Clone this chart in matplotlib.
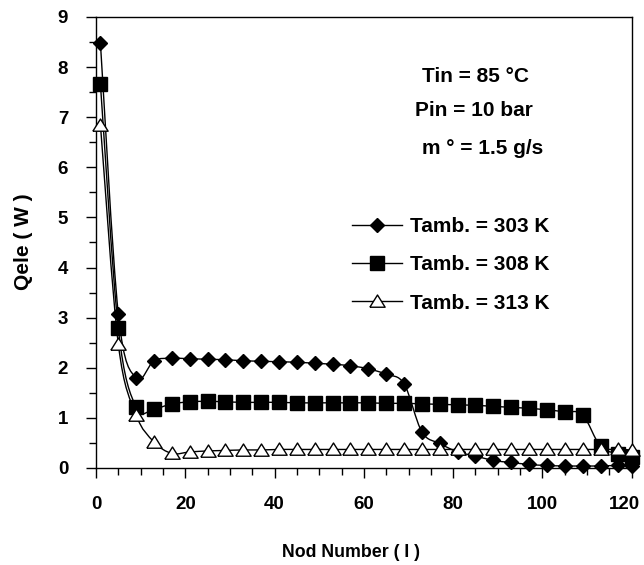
import numpy as np
import matplotlib
matplotlib.use('Agg')
import matplotlib.pyplot as plt
from matplotlib.path import Path
from matplotlib.patches import PathPatch
from matplotlib.lines import Line2D
from matplotlib.transforms import ScaledTranslation

plt.rcParams['font.family'] = ['Liberation Sans', 'DejaVu Sans']
plt.rcParams['font.weight'] = 'bold'

# node numbers
nodes = [1, 5, 9, 13, 17, 21, 25, 29, 33, 37, 41, 45, 49, 53, 57, 61, 65, 69,
         73, 77, 81, 85, 89, 93, 97, 101, 105, 109, 113, 117, 120]

# Qele (W) for each ambient temperature
q303 = [8.48, 3.08, 1.79, 2.14, 2.19, 2.18, 2.17, 2.16, 2.14, 2.13, 2.12, 2.11,
        2.09, 2.07, 2.04, 1.98, 1.87, 1.68, 0.72, 0.49, 0.32, 0.24, 0.15, 0.11,
        0.07, 0.05, 0.04, 0.04, 0.04, 0.05, 0.03]
q308 = [7.66, 2.79, 1.21, 1.18, 1.28, 1.32, 1.33, 1.32, 1.31, 1.31, 1.31, 1.30,
        1.30, 1.30, 1.30, 1.30, 1.29, 1.29, 1.28, 1.27, 1.26, 1.25, 1.23, 1.21,
        1.19, 1.16, 1.12, 1.06, 0.43, 0.28, 0.21]
q313 = [6.85, 2.48, 1.06, 0.52, 0.29, 0.32, 0.34, 0.35, 0.36, 0.36, 0.37, 0.37,
        0.37, 0.37, 0.37, 0.37, 0.37, 0.37, 0.37, 0.37, 0.37, 0.37, 0.37, 0.37,
        0.37, 0.37, 0.37, 0.37, 0.37, 0.37, 0.36]

labels = ['Tamb. = 303 K', 'Tamb. = 308 K', 'Tamb. = 313 K']


def smooth_path(xs, ys):
    # excel style smoothed line (catmull-rom as bezier segments)
    pts = np.column_stack([xs, ys]).astype(float)
    n = len(pts)
    verts = [pts[0]]
    codes = [Path.MOVETO]
    for i in range(n - 1):
        p0 = pts[i - 1] if i > 0 else pts[i]
        p1 = pts[i]
        p2 = pts[i + 1]
        p3 = pts[i + 2] if i + 2 < n else pts[i + 1]
        verts += [p1 + (p2 - p0) / 6, p2 - (p3 - p1) / 6, p2]
        codes += [Path.CURVE4] * 3
    return Path(verts, codes)


tri = [(-1, -0.75), (1, -0.75), (0, 0.85), (-1, -0.75)]
styles = [
    dict(marker='D', ms=7, mfc='black', mec='black', mew=1),
    dict(marker='s', ms=10, mfc='black', mec='black', mew=1),
    dict(marker=tri, ms=11, mfc='white', mec='black', mew=1),
]

fig = plt.figure(figsize=(6.44, 5.65), dpi=100)
ax = fig.add_axes([0.149, 0.1717, 0.832, 0.7983])

handles = []
for ys, st, lab in zip([q303, q308, q313], styles, labels):
    ax.add_patch(PathPatch(smooth_path(nodes, ys), fill=False, ec='black', lw=1, zorder=2))
    ax.plot(nodes, ys, ls='none', zorder=3, clip_on=False, **st)
    handles.append(Line2D([], [], color='black', lw=1, label=lab, **st))

ax.set_xlim(0, 120)
ax.set_ylim(0, 9)
ax.set_xticks(np.arange(0, 121, 20))
ax.set_xticks(np.arange(0, 121, 5), minor=True)
ax.set_yticks(np.arange(0, 10, 1))
ax.set_yticks(np.arange(0, 9.1, 0.5), minor=True)
ax.tick_params(which='both', direction='out', top=False, right=False,
               width=1, labelsize=13.5, pad=13)
ax.tick_params(which='major', length=7)
ax.tick_params(which='minor', length=5)
for sp in ax.spines.values():
    sp.set_linewidth(1)

# keep the "120" label inside the figure
fig.canvas.draw()
last = ax.get_xticklabels()[-1]
last.set_transform(last.get_transform() + ScaledTranslation(-7 / 100, 0, fig.dpi_scale_trans))

fig.text(0.036, 0.572, 'Qele ( W )', rotation=90, ha='center', va='center',
         fontsize=15, fontweight='bold')
fig.text(0.545, 0.023, 'Nod Number ( I )', ha='center', va='center',
         fontsize=12.8, fontweight='bold')

fig.text(0.739, 0.864, 'Tin = 85 °C', ha='center', va='center', fontsize=15)
fig.text(0.736, 0.805, 'Pin = 10 bar', ha='center', va='center', fontsize=15)
fig.text(0.75, 0.738, 'm ° = 1.5 g/s', ha='center', va='center', fontsize=15)

leg = fig.legend(handles=handles, loc='upper left', bbox_to_anchor=(0.5466, 0.616),
                 frameon=False, fontsize=15, numpoints=1, handlelength=2.4,
                 handletextpad=0.4, labelspacing=0.93, borderpad=0, borderaxespad=0)

fig.savefig('out.png', dpi=100)
